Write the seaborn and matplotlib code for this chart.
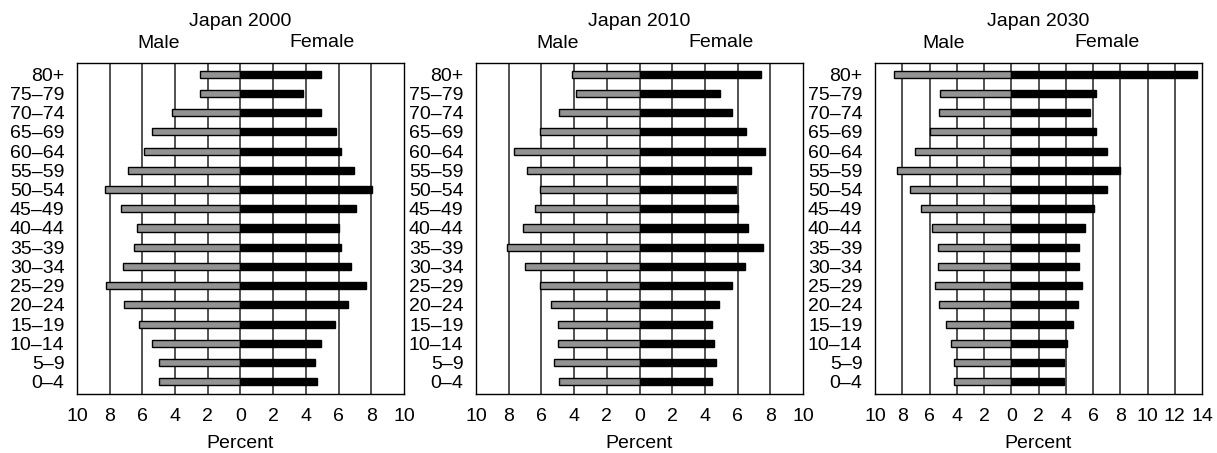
import numpy as np
import pandas as pd
import matplotlib
matplotlib.use("Agg")
import matplotlib.pyplot as plt
import matplotlib.transforms as mtransforms
import seaborn as sns

# Age groups, oldest at the top
age_groups = ["80+", "75\u201379", "70\u201374", "65\u201369", "60\u201364", "55\u201359",
              "50\u201354", "45\u201349", "40\u201344", "35\u201339", "30\u201334", "25\u201329",
              "20\u201324", "15\u201319", "10\u201314", "5\u20139", "0\u20134"]

# Percent of population by age group and sex
male_2000 = [2.5, 2.5, 4.2, 5.4, 5.9, 6.9, 8.3, 7.3, 6.3, 6.5, 7.2, 8.2, 7.1, 6.2, 5.4, 5.0, 5.0]
female_2000 = [4.9, 3.8, 4.9, 5.85, 6.15, 6.95, 8.05, 7.05, 6.05, 6.15, 6.75, 7.65, 6.55, 5.75, 4.95, 4.55, 4.65]

male_2010 = [4.1, 3.9, 4.9, 6.1, 7.7, 6.9, 6.1, 6.4, 7.1, 8.1, 7.0, 6.1, 5.4, 5.0, 5.0, 5.2, 4.9]
female_2010 = [7.45, 4.9, 5.65, 6.5, 7.7, 6.8, 5.9, 6.0, 6.65, 7.55, 6.45, 5.65, 4.85, 4.45, 4.55, 4.65, 4.45]

male_2030 = [8.6, 5.2, 5.3, 6.0, 7.1, 8.4, 7.4, 6.6, 5.8, 5.4, 5.4, 5.6, 5.3, 4.8, 4.4, 4.2, 4.2]
female_2030 = [13.6, 6.2, 5.8, 6.2, 7.0, 8.0, 7.0, 6.1, 5.4, 5.0, 5.0, 5.2, 4.9, 4.5, 4.1, 3.9, 3.9]

titles = ["Japan 2000", "Japan 2010", "Japan 2030"]
right_limits = [10, 10, 14]

sns.set_style("white")
plt.rcParams["font.family"] = ["Liberation Sans", "DejaVu Sans"]
plt.rcParams["text.color"] = "black"
plt.rcParams["axes.labelcolor"] = "black"
FS = 14

W, H = 1217, 453
fig = plt.figure(figsize=(W / 100, H / 100), dpi=100)

panel_px = [(77, 404), (476, 803), (875, 1202)]
top_px, bottom_px = 63.3, 394.0

series = [(male_2000, female_2000), (male_2010, female_2010), (male_2030, female_2030)]

for (x0, x1), title, xmax, (male, female) in zip(panel_px, titles, right_limits, series):
    ax = fig.add_axes([x0 / W, 1 - bottom_px / H, (x1 - x0) / W, (bottom_px - top_px) / H])
    df = pd.DataFrame({"age": age_groups,
                       "male": -np.array(male, dtype=float),
                       "female": np.array(female, dtype=float)})
    sns.barplot(data=df, x="male", y="age", order=age_groups, orient="h",
                color="#939393", saturation=1, width=0.37,
                edgecolor="black", linewidth=1.0, ax=ax, zorder=3)
    sns.barplot(data=df, x="female", y="age", order=age_groups, orient="h",
                color="black", saturation=1, width=0.37,
                edgecolor="black", linewidth=1.0, ax=ax, zorder=3)

    ticks = np.arange(-10, xmax + 1, 2)
    ax.set_xlim(-10, xmax)
    ax.set_ylim(16.64, -0.57)
    ax.set_xticks(ticks)
    ax.set_xticklabels([str(abs(int(t))) for t in ticks])
    for t in ticks[1:-1]:
        ax.axvline(t, color="#222222", lw=1.1, zorder=1)

    ax.tick_params(axis="both", length=0, labelsize=FS, colors="black")
    ax.tick_params(axis="x", pad=10)
    ax.tick_params(axis="y", pad=9)
    ax.set_ylabel("")
    ax.set_xlabel("Percent", fontsize=FS, labelpad=7)
    for sp in ax.spines.values():
        sp.set_visible(True)
        sp.set_color("black")
        sp.set_linewidth(1.0)

    axh = bottom_px - top_px
    trans = mtransforms.blended_transform_factory(ax.transData, ax.transAxes)
    ax.text(0.5, 1 + (top_px - 21) / axh, title, transform=ax.transAxes,
            ha="center", va="center", fontsize=FS)
    ax.text(-5, 1 + (top_px - 43) / axh, "Male", transform=trans,
            ha="center", va="center", fontsize=FS)
    ax.text(xmax / 2, 1 + (top_px - 42) / axh, "Female", transform=trans,
            ha="center", va="center", fontsize=FS)

fig.savefig("out.png", dpi=100)
